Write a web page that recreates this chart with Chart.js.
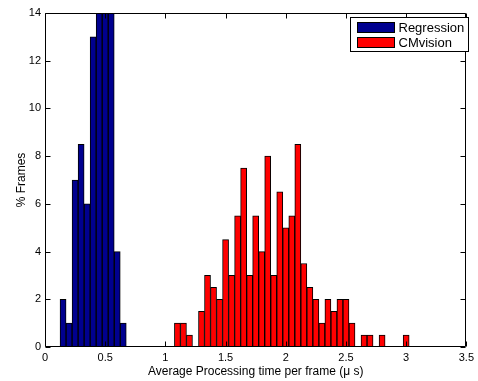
<!DOCTYPE html>
<html>
<head>
<meta charset="utf-8">
<script src="https://cdn.jsdelivr.net/npm/chart.js@4/dist/chart.umd.min.js"></script>
<style>
  html, body { margin: 0; padding: 0; background: #fff; }
  #wrap { width: 478px; height: 381px; }
</style>
</head>
<body>
<div id="wrap"><canvas id="c" width="478" height="381"></canvas></div>
<script>
// ---- data ----
const regressionBins = [0.15, 0.20, 0.25, 0.30, 0.35, 0.40, 0.45, 0.50, 0.55, 0.60, 0.65];
const regressionPct  = [2, 1, 7, 8.5, 6, 13, 19, 20, 18.5, 4, 1];

const cmvisionBins = [1.10, 1.15, 1.20, 1.30, 1.35, 1.40, 1.45, 1.50, 1.55, 1.60, 1.65, 1.70,
                      1.75, 1.80, 1.85, 1.90, 1.95, 2.00, 2.05, 2.10, 2.15, 2.20, 2.25, 2.30,
                      2.35, 2.40, 2.45, 2.50, 2.55, 2.65, 2.70, 2.80, 3.00];
const cmvisionPct  = [1, 1, 0.5, 1.5, 3, 2.5, 2, 4.5, 3, 5.5, 7.5, 3,
                      5.5, 4, 8, 3, 6.5, 5, 5.5, 8.5, 3.5, 2.5, 2, 1,
                      2, 1.5, 2, 2, 1, 0.5, 0.5, 0.5, 0.5];

const seriesNames = ['Regression', 'CMvision'];
const xTitle = 'Average Processing time per frame (\u03bc s)';
const yTitle = '% Frames';
const xMin = 0, xMax = 3.5, xStep = 0.5;
const yMin = 0, yMax = 14, yStep = 2;

const FONT = '"Liberation Sans", Arial, Helvetica, sans-serif';

function toPoints(xs, ys) { return xs.map((x, i) => ({ x: x, y: ys[i] })); }

const matlabFrame = {
  id: 'matlabFrame',
  afterDatasetsDraw(chart) {
    const { ctx, chartArea, scales } = chart;
    const L = Math.round(chartArea.left) + 0.5;
    const R = Math.round(chartArea.right) - 0.5;
    const T = Math.round(chartArea.top) + 0.5;
    const B = Math.round(chartArea.bottom) - 0.5;
    const tl = 5;
    ctx.save();
    ctx.strokeStyle = '#000';
    ctx.lineWidth = 1;
    ctx.beginPath();
    ctx.rect(L, T, R - L, B - T);
    scales.x.ticks.forEach(t => {
      const px = Math.round(scales.x.getPixelForValue(t.value)) + 0.5;
      ctx.moveTo(px, B); ctx.lineTo(px, B - tl);
      ctx.moveTo(px, T); ctx.lineTo(px, T + tl);
    });
    scales.y.ticks.forEach(t => {
      const py = Math.round(scales.y.getPixelForValue(t.value)) + 0.5;
      ctx.moveTo(L, py); ctx.lineTo(L + tl, py);
      ctx.moveTo(R, py); ctx.lineTo(R - tl, py);
    });
    ctx.stroke();

    // legend box (MATLAB style, inside the axes at the top right)
    const bx = 350.5, by = 17.5, bw = 118, bh = 34;
    ctx.fillStyle = '#fff';
    ctx.fillRect(bx, by, bw, bh);
    ctx.strokeRect(bx, by, bw, bh);
    ctx.font = '13px ' + FONT;
    ctx.textBaseline = 'middle';
    ctx.textAlign = 'left';
    chart.data.datasets.forEach((ds, i) => {
      const sy = by + 5 + i * 15;
      ctx.fillStyle = ds.backgroundColor;
      ctx.fillRect(bx + 7, sy, 37, 10);
      ctx.strokeStyle = '#000';
      ctx.strokeRect(bx + 7, sy, 37, 10);
      ctx.fillStyle = '#000';
      ctx.fillText(ds.label, bx + 48, sy + 5.5);
    });
    ctx.restore();
  }
};

new Chart(document.getElementById('c'), {
  type: 'bar',
  data: {
    datasets: [
      {
        label: seriesNames[0],
        data: toPoints(regressionBins, regressionPct),
        backgroundColor: '#00008F',
        borderColor: '#000000',
        borderWidth: 1,
        clip: 0
      },
      {
        label: seriesNames[1],
        data: toPoints(cmvisionBins, cmvisionPct),
        backgroundColor: '#FF0000',
        borderColor: '#000000',
        borderWidth: 1,
        clip: 0
      }
    ]
  },
  options: {
    responsive: false,
    animation: false,
    grouped: false,
    barPercentage: 1,
    categoryPercentage: 1,
    layout: { padding: { top: 13, right: 8, left: 0, bottom: 0 } },
    plugins: { legend: { display: false }, tooltip: { enabled: false } },
    scales: {
      x: {
        type: 'linear',
        min: xMin, max: xMax,
        offset: false,
        grid: { display: false, drawTicks: false },
        border: { display: false },
        ticks: { stepSize: xStep, color: '#000', font: { family: FONT, size: 11 }, padding: 4, maxRotation: 0,
                 callback: v => String(v) },
        title: { display: true, text: xTitle, color: '#000', font: { family: FONT, size: 12 }, padding: { top: 0, bottom: 2 } },
        afterFit(s) { s.height = 34; }
      },
      y: {
        min: yMin, max: yMax,
        grid: { display: false, drawTicks: false },
        border: { display: false },
        ticks: { stepSize: yStep, color: '#000', font: { family: FONT, size: 11 }, padding: 4,
                 callback: v => String(v) },
        title: { display: true, text: yTitle, color: '#000', font: { family: FONT, size: 12 }, padding: { top: 14, bottom: 0 } },
        afterFit(s) { s.width = 45; }
      }
    }
  },
  plugins: [matlabFrame]
});
</script>
</body>
</html>
